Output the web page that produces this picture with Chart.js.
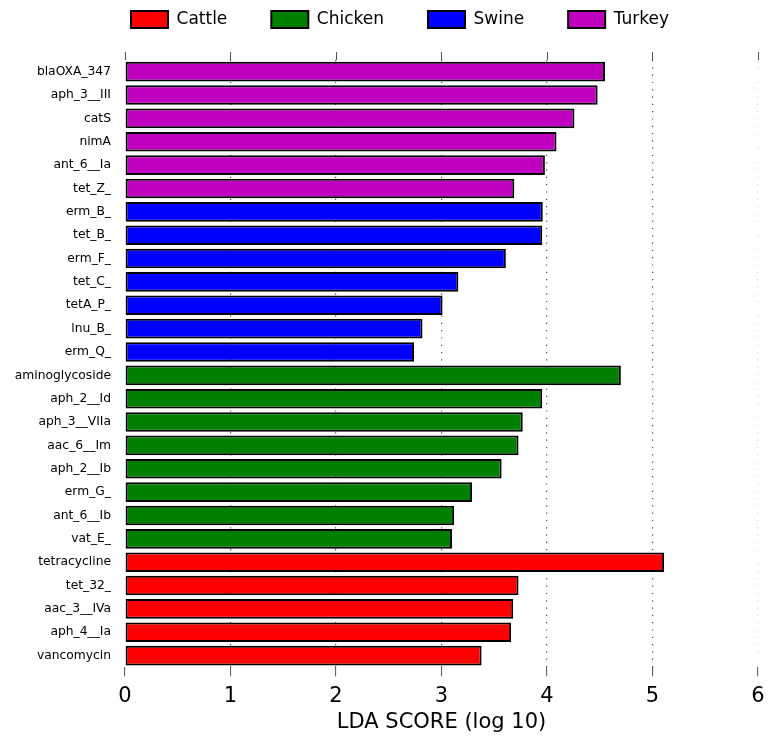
<!DOCTYPE html>
<html>
<head>
<meta charset="utf-8">
<script src="https://cdn.jsdelivr.net/npm/chart.js@4/dist/chart.umd.min.js"></script>
<style>
  html, body { margin: 0; padding: 0; background: #fff; }
  #wrap { width: 771px; height: 739px; }
</style>
</head>
<body>
<div id="wrap"><canvas id="ldaChart" width="771" height="739"></canvas></div>
<script>
// Гены (сверху вниз), их группа и LDA score
const genes = [
  'blaOXA_347', 'aph_3__III', 'catS', 'nimA', 'ant_6__Ia', 'tet_Z_',
  'erm_B_', 'tet_B_', 'erm_F_', 'tet_C_', 'tetA_P_', 'lnu_B_', 'erm_Q_',
  'aminoglycoside', 'aph_2__Id', 'aph_3__VIIa', 'aac_6__Im', 'aph_2__Ib',
  'erm_G_', 'ant_6__Ib', 'vat_E_',
  'tetracycline', 'tet_32_', 'aac_3__IVa', 'aph_4__Ia', 'vancomycin'
];
const geneGroup = [
  'Turkey', 'Turkey', 'Turkey', 'Turkey', 'Turkey', 'Turkey',
  'Swine', 'Swine', 'Swine', 'Swine', 'Swine', 'Swine', 'Swine',
  'Chicken', 'Chicken', 'Chicken', 'Chicken', 'Chicken', 'Chicken', 'Chicken', 'Chicken',
  'Cattle', 'Cattle', 'Cattle', 'Cattle', 'Cattle'
];
const ldaScores = [
  4.55, 4.48, 4.26, 4.09, 3.98, 3.69,
  3.96, 3.955, 3.61, 3.16, 3.01, 2.82, 2.74,
  4.70, 3.955, 3.77, 3.73, 3.57, 3.29, 3.12, 3.10,
  5.11, 3.73, 3.68, 3.66, 3.38
];
const groups = ['Cattle', 'Chicken', 'Swine', 'Turkey'];
const groupColors = ['#ff0000', '#008000', '#0000ff', '#bf00bf'];
const xTicks = [0, 1, 2, 3, 4, 5, 6];

const FONT = 'DejaVu Sans';

// Сдвиг легенды после раскладки (как в оригинале — чуть правее и выше)
const legendShift = {
  id: 'legendShift',
  afterLayout: function(chart) {
    const lg = chart.legend;
    if (!lg) return;
    const dx = 21, dy = -14;
    lg.left += dx; lg.right += dx;
    lg.top += dy; lg.bottom += dy;
  }
};

document.addEventListener('DOMContentLoaded', function() {
  const ctx = document.getElementById('ldaChart');

  // один набор данных на группу, null там, где ген не из группы
  const datasets = groups.map(function(g, k) {
    return {
      label: g,
      data: ldaScores.map(function(v, i) { return geneGroup[i] === g ? v : null; }),
      backgroundColor: groupColors[k],
      borderColor: '#000',
      borderWidth: 2,
      borderSkipped: false,
      grouped: false,
      categoryPercentage: 1,
      barPercentage: 0.84
    };
  });

  new Chart(ctx, {
    type: 'bar',
    data: { labels: genes, datasets: datasets },
    plugins: [legendShift],
    options: {
      indexAxis: 'y',
      responsive: false,
      animation: false,
      layout: { padding: { top: -19, right: 13, bottom: 11, left: 0 } },
      plugins: {
        legend: {
          position: 'top',
          labels: {
            boxWidth: 37,
            boxHeight: 17,
            padding: 44,
            color: '#000',
            font: { family: FONT, size: 17 }
          }
        },
        tooltip: { enabled: false }
      },
      scales: {
        x: {
          type: 'linear',
          position: 'bottom',
          min: 0,
          max: 6,
          z: 1,
          afterBuildTicks: function(scale) {
            scale.ticks = xTicks.map(function(v) { return { value: v }; });
          },
          ticks: {
            color: '#000',
            padding: 6,
            font: { family: FONT, size: 21, lineHeight: 1.34 }
          },
          grid: {
            color: function(c) {
              const v = c.tick ? c.tick.value : 0;
              if (v === 0) return 'rgba(0,0,0,0)';
              if (v === 6) return 'rgba(0,0,0,0.15)';
              return 'rgba(0,0,0,0.7)';
            },
            lineWidth: 1.2,
            tickLength: 9,
            tickColor: '#555',
            tickWidth: 1
          },
          border: { display: false, dash: [1.2, 6.1] },
          title: {
            display: true,
            text: 'LDA SCORE (log 10)',
            color: '#000',
            font: { family: FONT, size: 21, lineHeight: 0.55 },
            padding: { top: 0, bottom: 0 }
          }
        },
        x2: {
          type: 'linear',
          position: 'top',
          min: 0,
          max: 6,
          afterBuildTicks: function(scale) {
            scale.ticks = xTicks.map(function(v) { return { value: v }; });
          },
          ticks: { display: false },
          grid: {
            drawOnChartArea: false,
            tickLength: 8,
            tickColor: '#555',
            tickWidth: 1
          },
          border: { display: false }
        },
        y: {
          type: 'category',
          afterFit: function(scale) { scale.width = 125; },
          ticks: {
            color: '#000',
            padding: 14,
            autoSkip: false,
            font: { family: FONT, size: 12.3 }
          },
          grid: { display: false, drawTicks: false },
          border: { display: false }
        }
      }
    }
  });
});
</script>
</body>
</html>
